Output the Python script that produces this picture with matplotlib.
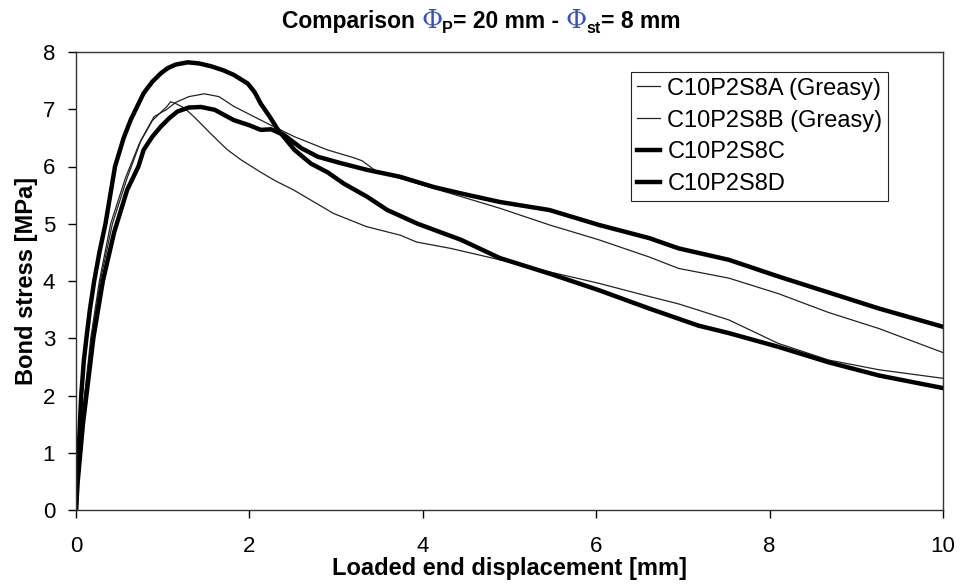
import matplotlib
matplotlib.use('Agg')
import matplotlib.pyplot as plt

plt.rcParams['font.family'] = ['Liberation Sans', 'DejaVu Sans']

# C10P2S8A (Greasy) - thin
a_x = [0, 0.02, 0.05, 0.1, 0.17, 0.27, 0.4, 0.57, 0.73, 0.88, 0.98, 1.05, 1.09, 1.15,
       1.25, 1.36, 1.55, 1.74, 1.9, 2.13, 2.3, 2.51, 2.97, 3.35, 3.74, 3.93, 4.32, 4.89,
       5.46, 6.03, 6.61, 6.95, 7.18, 7.53, 8.1, 8.68, 9.26, 10]
a_y = [0, 0.6, 1.2, 2.0, 3.0, 4.0, 5.0, 5.8, 6.4, 6.8, 6.95, 7.05, 7.13, 7.1,
       7.02, 6.87, 6.58, 6.3, 6.12, 5.9, 5.75, 5.59, 5.18, 4.95, 4.8, 4.68, 4.57, 4.37,
       4.16, 3.96, 3.73, 3.6, 3.49, 3.32, 2.91, 2.62, 2.45, 2.3]

# C10P2S8B (Greasy) - thin
b_x = [0, 0.02, 0.05, 0.1, 0.18, 0.28, 0.42, 0.59, 0.75, 0.9, 1.05, 1.15, 1.3, 1.48,
       1.65, 1.82, 2.21, 2.52, 2.9, 3.21, 3.3, 3.47, 3.81, 4.32, 4.89, 5.46, 6.03, 6.61,
       6.95, 7.53, 8.1, 8.68, 9.26, 10]
b_y = [0, 0.6, 1.2, 2.0, 3.0, 4.0, 5.0, 5.8, 6.46, 6.87, 7.0, 7.12, 7.22, 7.27,
       7.22, 7.05, 6.75, 6.52, 6.29, 6.15, 6.1, 5.91, 5.76, 5.53, 5.27, 4.98, 4.72, 4.42,
       4.22, 4.05, 3.78, 3.45, 3.17, 2.75]

# C10P2S8C - thick, highest peak
c_x = [0, 0.01, 0.03, 0.06, 0.09, 0.12, 0.16, 0.21, 0.27, 0.34, 0.45, 0.55, 0.63, 0.69,
       0.78, 0.88, 0.98, 1.06, 1.15, 1.29, 1.42, 1.56, 1.7, 1.82, 1.98, 2.06, 2.13, 2.23,
       2.33, 2.52, 2.71, 2.9, 3.09, 3.36, 3.59, 3.94, 4.44, 4.89, 5.46, 6.03, 6.61, 7.18,
       7.53, 8.1, 8.68, 9.26, 10]
c_y = [0, 0.5, 1.0, 2.0, 2.6, 3.0, 3.5, 4.0, 4.5, 5.0, 6.0, 6.5, 6.81, 7.0,
       7.28, 7.48, 7.63, 7.72, 7.78, 7.82, 7.8, 7.75, 7.68, 7.6, 7.45, 7.3, 7.1, 6.88,
       6.64, 6.29, 6.05, 5.9, 5.7, 5.47, 5.24, 5.0, 4.72, 4.4, 4.13, 3.84, 3.52, 3.22,
       3.09, 2.85, 2.58, 2.35, 2.13]

# C10P2S8D - thick, lower peak
d_x = [0, 0.02, 0.05, 0.08, 0.12, 0.2, 0.31, 0.44, 0.59, 0.72, 0.78, 0.88, 0.98, 1.08,
       1.17, 1.3, 1.44, 1.6, 1.82, 2.0, 2.13, 2.25, 2.4, 2.6, 2.79, 3.05, 3.36, 3.74,
       4.13, 4.44, 4.89, 5.46, 6.03, 6.61, 6.95, 7.53, 8.1, 8.68, 9.26, 10]
d_y = [0, 0.5, 1.0, 1.5, 2.0, 3.0, 4.0, 4.85, 5.59, 6.0, 6.29, 6.52, 6.7, 6.85,
       6.96, 7.03, 7.04, 6.99, 6.81, 6.72, 6.64, 6.65, 6.55, 6.32, 6.17, 6.06, 5.94, 5.82,
       5.64, 5.53, 5.38, 5.24, 4.98, 4.75, 4.57, 4.37, 4.08, 3.8, 3.52, 3.2]

fig = plt.figure(figsize=(9.6, 5.88), dpi=100)
ax = fig.add_axes([76 / 960, 78 / 588, 867 / 960, 458 / 588])

ax.plot(a_x, a_y, color='#222222', lw=0.9, label='C10P2S8A (Greasy)')
ax.plot(b_x, b_y, color='#222222', lw=0.9, label='C10P2S8B (Greasy)')
ax.plot(c_x, c_y, color='black', lw=3.2, label='C10P2S8C')
ax.plot(d_x, d_y, color='black', lw=3.2, label='C10P2S8D')

ax.set_xlim(0, 10)
ax.set_ylim(0, 8)
ax.set_xticks([0, 2, 4, 6, 8, 10])
ax.set_yticks(range(0, 9))
ax.tick_params(direction='out', length=6, width=1, labelsize=16)
ax.tick_params(axis='x', pad=13)
ax.tick_params(axis='y', pad=9)
for s in ax.spines.values():
    s.set_linewidth(1)
    s.set_color('#333333')

ax.set_xlabel('Loaded end displacement [mm]', fontsize=17, fontweight='bold', labelpad=0)
ax.set_ylabel('Bond stress [MPa]', fontsize=17, fontweight='bold', labelpad=3)

leg = ax.legend(loc='upper right', bbox_to_anchor=(0.937, 0.957), borderaxespad=0,
                fontsize=17, handlelength=1.0, handletextpad=0.3, labelspacing=0.42,
                fancybox=False, framealpha=1, borderpad=0.25)
leg.get_frame().set_edgecolor('#222222')
leg.get_frame().set_linewidth(0.8)

# title with blue Phi symbols, built piece by piece
pieces = [('Comparison ', 'black', 16.5, 'bold', 0),
          ('\u03a6', '#3355bb', 18.5, 'normal', 0),
          ('P', 'black', 11.5, 'bold', -5),
          ('= 20 mm - ', 'black', 16.5, 'bold', 0),
          ('\u03a6', '#3355bb', 18.5, 'normal', 0),
          ('st', 'black', 11.5, 'bold', -5),
          ('= 8 mm', 'black', 16.5, 'bold', 0)]
fig.canvas.draw()
renderer = fig.canvas.get_renderer()
texts = []
widths = []
for s, col, fs, fw, dy in pieces:
    t = fig.text(0, 0, s, color=col, fontsize=fs, fontweight=fw,
                 family=['DejaVu Serif'] if s == '\u03a6' else ['Liberation Sans'],
                 transform=None, va='baseline')
    bb = t.get_window_extent(renderer)
    texts.append(t)
    widths.append(bb.width)
total = sum(widths)
x0 = 481 - total / 2
base_y = 588 - 28
for t, w, p in zip(texts, widths, pieces):
    t.set_position((x0, base_y + p[4]))
    x0 += w

fig.savefig('out.png', dpi=100)
